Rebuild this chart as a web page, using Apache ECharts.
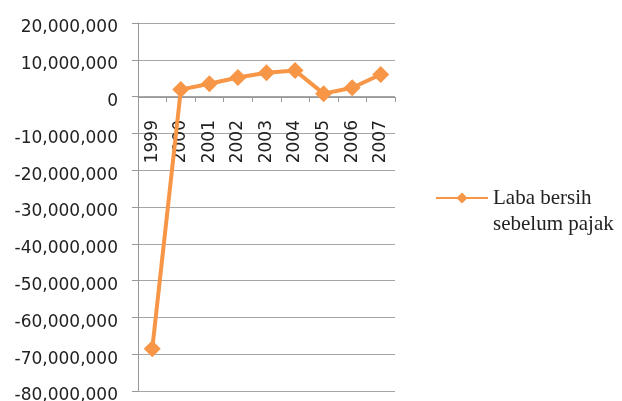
<!DOCTYPE html>
<html><head><meta charset="utf-8">
<script src="https://cdn.jsdelivr.net/npm/echarts@6/dist/echarts.min.js"></script>
<style>html,body{margin:0;padding:0;background:#fff}#c{width:622px;height:401px}</style>
</head><body><div id="c"></div>
<script>
const categories = ['1999','2000','2001','2002','2003','2004','2005','2006','2007'];
const labaBersih = [-68500000, 1900000, 3500000, 5200000, 6500000, 7100000, 800000, 2400000, 6000000];
const seriesName = 'Laba bersih sebelum pajak';

const chart = echarts.init(document.getElementById('c'), null, {renderer:'canvas'});
chart.setOption({
  animation:false,
  backgroundColor:'#fff',
  grid:{left:138, right:227, top:23, bottom:10, containLabel:false, outerBoundsMode:'none'},
  xAxis:{
    type:'category', data:categories, boundaryGap:true, position:'bottom', offset:-294,
    axisLine:{onZero:false, lineStyle:{color:'#999', width:1}},
    axisTick:{show:true, length:5, inside:false, alignWithLabel:false, lineStyle:{color:'#999'}},
    axisLabel:{rotate:90, margin:23, fontFamily:'DejaVu Sans', fontSize:17, color:'#222'},
    splitLine:{show:false}
  },
  yAxis:{
    type:'value', min:-80000000, max:20000000, interval:10000000,
    axisLine:{show:true, lineStyle:{color:'#999', width:1}},
    axisTick:{show:true, length:6, lineStyle:{color:'#999'}},
    axisLabel:{margin:20, color:'#222',
      formatter:v=>'{a|'+v.toLocaleString('en-US')+'}',
      rich:{a:{fontFamily:'DejaVu Sans', fontSize:17, color:'#222', padding:[10,0,0,0]}}},
    splitLine:{show:true, lineStyle:{color:'#a6a6a6', width:1}}
  },
  legend:{
    left:430, top:154, orient:'vertical',
    itemWidth:52, itemHeight:14,
    data:[{name:seriesName}],
    formatter:()=>' \nLaba bersih\nsebelum pajak',
    textStyle:{fontFamily:'Liberation Serif', fontSize:21, color:'#222', lineHeight:26},
    itemGap:0
  },
  series:[{
    name:seriesName, type:'line', data:labaBersih,
    symbol:'diamond', symbolSize:17,
    lineStyle:{color:'#F79646', width:4},
    itemStyle:{color:'#F79646'}
  }]
});
</script></body></html>
